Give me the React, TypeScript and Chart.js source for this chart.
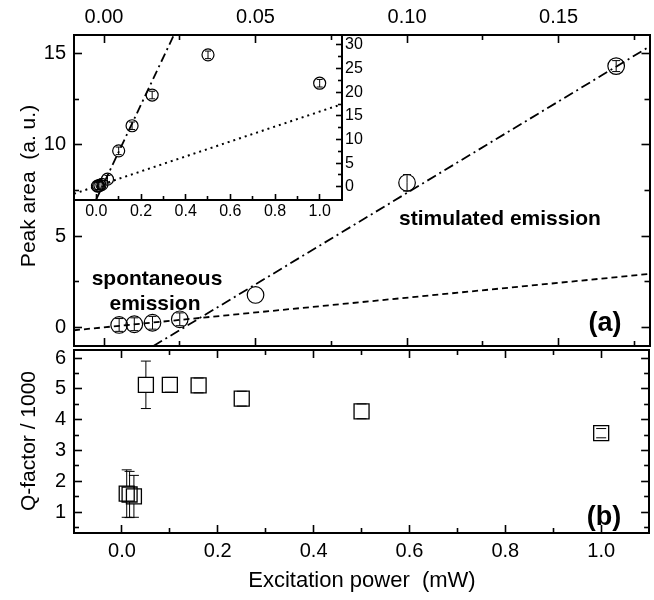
import React, { useEffect, useRef } from 'react';
import { Chart, registerables } from 'chart.js';
Chart.register(...registerables);

const FONT = "'Liberation Sans', Arial, Helvetica, sans-serif";

// ---------- Panel (a): peak area vs excitation power (top axis units) ----------
const mainPower = [0.005, 0.010, 0.016, 0.025, 0.050, 0.100, 0.169];
const mainArea = [0.15, 0.19, 0.27, 0.46, 1.79, 7.92, 14.3];
const mainAreaErr = [0.35, 0.35, 0.35, 0.35, 0, 0.45, 0.3];
const spontFitPower = [-0.0099, 0.18];
const spontFitArea = [-0.14, 2.94];
const stimFitPower = [0.0163, 0.18];
const stimFitArea = [-1.0, 15.37];
const topTicks = [0, 0.05, 0.10, 0.15];
const topMinorTicks = [0.025, 0.075, 0.125, 0.175];
const areaTicks = [0, 5, 10, 15];
const areaMinorTicks = [2.5, 7.5, 12.5];

// ---------- Inset: full power range ----------
const insetPower = [0.005, 0.010, 0.016, 0.025, 0.05, 0.10, 0.16, 0.25, 0.50, 1.00];
const insetArea = [0.15, 0.2, 0.3, 0.5, 1.6, 7.6, 12.9, 19.4, 27.9, 21.9];
const insetAreaErr = [0.8, 0.8, 0.8, 0.8, 0.8, 0.8, 0.8, 0.8, 0.8, 0.8];
const insetStimPower = [0.0, 0.36];
const insetStimArea = [-2.63, 33.37];
const insetSpontPower = [-0.1, 1.1];
const insetSpontArea = [-1.48, 17.48];
const insetXTicks = [0, 0.2, 0.4, 0.6, 0.8, 1.0];
const insetXMinorTicks = [0.1, 0.3, 0.5, 0.7, 0.9];
const insetYTicks = [0, 5, 10, 15, 20, 25, 30];
const insetYMinorTicks = [2.5, 7.5, 12.5, 17.5, 22.5, 27.5];

// ---------- Panel (b): Q factor ----------
const qPower = [0.01, 0.016, 0.025, 0.05, 0.10, 0.16, 0.25, 0.50, 1.00];
const qFactor = [1.60, 1.57, 1.51, 5.13, 5.13, 5.11, 4.68, 4.27, 3.56];
const qErr = [0.77, 0.75, 0.68, 0.77, 0.24, 0.24, 0.24, 0.24, 0.15];
const powerTicks = [0, 0.2, 0.4, 0.6, 0.8, 1.0];
const powerMinorTicks = [0.1, 0.3, 0.5, 0.7, 0.9];
const qTicks = [1, 2, 3, 4, 5, 6];
const qMinorTicks = [0.5, 1.5, 2.5, 3.5, 4.5, 5.5];

const pts = (xs: number[], ys: number[]) => xs.map((x, i) => ({ x, y: ys[i] }));

const errorBarPlugin = {
  id: 'errorBars',
  afterDatasetsDraw(chart: any) {
    const ctx = chart.ctx;
    chart.data.datasets.forEach((ds: any, i: number) => {
      if (!ds.errors) return;
      const meta = chart.getDatasetMeta(i);
      const yScale = chart.scales[meta.yAxisID];
      ctx.save();
      ctx.strokeStyle = '#000';
      ctx.lineWidth = ds.errLineWidth || 1;
      const gap = ds.errGap || 0;
      const cap = ds.errCap || 4;
      meta.data.forEach((el: any, j: number) => {
        const v = ds.data[j].y;
        const e = ds.errors[j];
        if (!e) return;
        const yT = yScale.getPixelForValue(v + e);
        const yB = yScale.getPixelForValue(v - e);
        const x = el.x;
        const y = el.y;
        ctx.beginPath();
        if (yT < y - gap) {
          ctx.moveTo(x, y - gap);
          ctx.lineTo(x, yT);
        }
        ctx.moveTo(x - cap, yT);
        ctx.lineTo(x + cap, yT);
        if (yB > y + gap) {
          ctx.moveTo(x, y + gap);
          ctx.lineTo(x, yB);
        }
        ctx.moveTo(x - cap, yB);
        ctx.lineTo(x + cap, yB);
        ctx.stroke();
      });
      ctx.restore();
    });
  },
};

function axis(
  position: string,
  min: number,
  max: number,
  ticks: number[],
  len: number,
  label?: { size: number; padding: number; digits: number; room: number }
) {
  return {
    type: 'linear',
    position,
    min,
    max,
    display: true,
    weight: label ? 1 : 0,
    afterBuildTicks: (s: any) => {
      s.ticks = ticks.map((v) => ({ value: v }));
    },
    afterFit: (s: any) => {
      const room = label ? label.room : 0;
      if (s.isHorizontal()) s.height = room;
      else s.width = room;
    },
    grid: {
      display: true,
      drawOnChartArea: false,
      drawTicks: true,
      tickLength: -len,
      tickWidth: 1.6,
      tickColor: '#000',
    },
    border: { display: true, color: '#000', width: 2 },
    ticks: {
      display: !!label,
      autoSkip: false,
      maxRotation: 0,
      minRotation: 0,
      color: '#000',
      padding: label ? label.padding : 0,
      font: { family: FONT, size: label ? label.size : 12 },
      callback: (v: any) => (label ? Number(v).toFixed(label.digits) : ''),
    },
  };
}

function baseOptions(scales: any) {
  return {
    responsive: false,
    maintainAspectRatio: false,
    animation: false,
    devicePixelRatio: 1,
    layout: { padding: { left: 0, top: 0, right: 0, bottom: 0 } },
    plugins: { legend: { display: false }, tooltip: { enabled: false } },
    events: [],
    scales,
  };
}

// Nudge layout padding (and canvas width for the right edge) so the plot
// area lands on the wanted box.
function fitArea(chart: any, target: { left: number; top: number; right: number; bottom: number }) {
  for (let k = 0; k < 10; k++) {
    const a = chart.chartArea;
    const dl = target.left - a.left;
    const dt = target.top - a.top;
    const dr = target.right - a.right;
    const db = target.bottom - a.bottom;
    if (Math.abs(dl) < 0.3 && Math.abs(dt) < 0.3 && Math.abs(dr) < 0.3 && Math.abs(db) < 0.3) break;
    const p = chart.options.layout.padding;
    chart.options.layout.padding = {
      left: p.left + dl,
      top: p.top + dt,
      right: p.right,
      bottom: p.bottom - db,
    };
    if (Math.abs(dr) >= 0.3) {
      chart.resize(Math.round(chart.width + dr), chart.height);
    }
    chart.update();
  }
}

const circleStyle = (r: number) => ({
  showLine: false,
  pointStyle: 'circle',
  pointRadius: r,
  pointBorderColor: '#000',
  pointBackgroundColor: 'rgba(0,0,0,0)',
  pointBorderWidth: 1.2,
  borderColor: '#000',
  backgroundColor: 'rgba(0,0,0,0)',
});

const lineStyle = (dash: number[], w: number) => ({
  showLine: true,
  pointRadius: 0,
  borderColor: '#000',
  borderWidth: w,
  borderDash: dash,
  fill: false,
});

export default function App() {
  const refA = useRef<HTMLCanvasElement>(null);
  const refB = useRef<HTMLCanvasElement>(null);
  const refI = useRef<HTMLCanvasElement>(null);

  useEffect(() => {
    const lbl = (size: number, padding: number, digits: number, room: number) => ({
      size,
      padding,
      digits,
      room,
    });

    const chartA = new Chart(refA.current as HTMLCanvasElement, {
      type: 'scatter',
      data: {
        datasets: [
          { data: pts(spontFitPower, spontFitArea), ...lineStyle([6, 4], 1.8) },
          { data: pts(stimFitPower, stimFitArea), ...lineStyle([10, 4, 2, 4], 1.8) },
          {
            data: pts(mainPower, mainArea),
            ...circleStyle(8.3),
            errors: mainAreaErr,
            errCap: 4,
          },
        ] as any,
      },
      options: baseOptions({
        x: axis('top', -0.0099, 0.18, topTicks, 8, lbl(20, 14, 2, 35)),
        xTopMinor: { ...axis('top', -0.0099, 0.18, topMinorTicks, 5), axis: 'x' },
        xBot: { ...axis('bottom', -0.0099, 0.18, topTicks, 8), axis: 'x' },
        xBotMinor: { ...axis('bottom', -0.0099, 0.18, topMinorTicks, 5), axis: 'x' },
        y: axis('left', -1, 16, areaTicks, 8, lbl(20, 16, 0, 74)),
        yLeftMinor: { ...axis('left', -1, 16, areaMinorTicks, 5), axis: 'y' },
        yRight: { ...axis('right', -1, 16, areaTicks, 8), axis: 'y' },
        yRightMinor: { ...axis('right', -1, 16, areaMinorTicks, 5), axis: 'y' },
      }) as any,
      plugins: [errorBarPlugin],
    });
    fitArea(chartA, { left: 74, top: 35, right: 649, bottom: 346 });

    const chartB = new Chart(refB.current as HTMLCanvasElement, {
      type: 'scatter',
      data: {
        datasets: [
          {
            data: pts(qPower, qFactor),
            showLine: false,
            pointStyle: 'rect',
            pointRadius: 10.6,
            pointBorderColor: '#000',
            pointBackgroundColor: 'rgba(0,0,0,0)',
            pointBorderWidth: 1.3,
            errors: qErr,
            errGap: 7.5,
            errCap: 5,
          },
        ] as any,
      },
      options: baseOptions({
        x: axis('bottom', -0.1, 1.1, powerTicks, 8, lbl(20, 14.7, 1, 40)),
        xBotMinor: { ...axis('bottom', -0.1, 1.1, powerMinorTicks, 5), axis: 'x' },
        xTop: { ...axis('top', -0.1, 1.1, powerTicks, 8), axis: 'x' },
        xTopMinor: { ...axis('top', -0.1, 1.1, powerMinorTicks, 5), axis: 'x' },
        y: axis('left', 0.32, 6.26, qTicks, 8, lbl(20, 16, 0, 74)),
        yLeftMinor: { ...axis('left', 0.32, 6.26, qMinorTicks, 5), axis: 'y' },
        yRight: { ...axis('right', 0.32, 6.26, qTicks, 8), axis: 'y' },
        yRightMinor: { ...axis('right', 0.32, 6.26, qMinorTicks, 5), axis: 'y' },
      }) as any,
      plugins: [errorBarPlugin],
    });
    fitArea(chartB, { left: 74, top: 350, right: 649, bottom: 533 });

    const chartI = new Chart(refI.current as HTMLCanvasElement, {
      type: 'scatter',
      data: {
        datasets: [
          { data: pts(insetSpontPower, insetSpontArea), ...lineStyle([2, 4], 2) },
          { data: pts(insetStimPower, insetStimArea), ...lineStyle([9, 4, 2, 4], 1.8) },
          {
            data: pts(insetPower, insetArea),
            ...circleStyle(6),
            errors: insetAreaErr,
            errCap: 3,
          },
        ] as any,
      },
      options: baseOptions({
        x: axis('bottom', -0.1, 1.1, insetXTicks, 6, lbl(16, 8.1, 1, 30)),
        xMinor: { ...axis('bottom', -0.1, 1.1, insetXMinorTicks, 4), axis: 'x' },
        y: axis('right', -2.8, 32.1, insetYTicks, 6, lbl(16, 9, 0, 40)),
        yMinor: { ...axis('right', -2.8, 32.1, insetYMinorTicks, 4), axis: 'y' },
      }) as any,
      plugins: [errorBarPlugin],
    });
    fitArea(chartI, { left: 74, top: 35, right: 342, bottom: 200 });

    return () => {
      chartA.destroy();
      chartB.destroy();
      chartI.destroy();
    };
  }, []);

  const canvasStyle: React.CSSProperties = { position: 'absolute', left: 0, top: 0 };
  const text = (
    content: string,
    cx: number,
    cy: number,
    size: number,
    bold: boolean,
    rotate = false
  ) => (
    <div
      style={{
        position: 'absolute',
        left: cx,
        top: cy,
        transform: `translate(-50%, -50%)${rotate ? ' rotate(-90deg)' : ''}`,
        fontFamily: FONT,
        fontSize: size,
        fontWeight: bold ? 'bold' : 'normal',
        whiteSpace: 'pre',
        lineHeight: 1,
        color: '#000',
      }}
    >
      {content}
    </div>
  );

  return (
    <div
      style={{
        position: 'absolute',
        left: 0,
        top: 0,
        width: 654,
        height: 600,
        background: '#fff',
        overflow: 'hidden',
      }}
    >
      <canvas ref={refA} width={654} height={600} style={canvasStyle} />
      <canvas ref={refB} width={654} height={600} style={canvasStyle} />
      <canvas ref={refI} width={654} height={600} style={canvasStyle} />
      {text('Peak area  (a. u.)', 27, 186, 21, false, true)}
      {text('Q-factor / 1000', 27, 441, 21, false, true)}
      {text('Excitation power  (mW)', 362, 580, 22, false)}
      {text('spontaneous', 157, 277, 21, true)}
      {text('emission', 155, 302, 21, true)}
      {text('stimulated emission', 500, 217, 21, true)}
      {text('(a)', 605, 322, 27, true)}
      {text('(b)', 604, 516, 27, true)}
    </div>
  );
}
